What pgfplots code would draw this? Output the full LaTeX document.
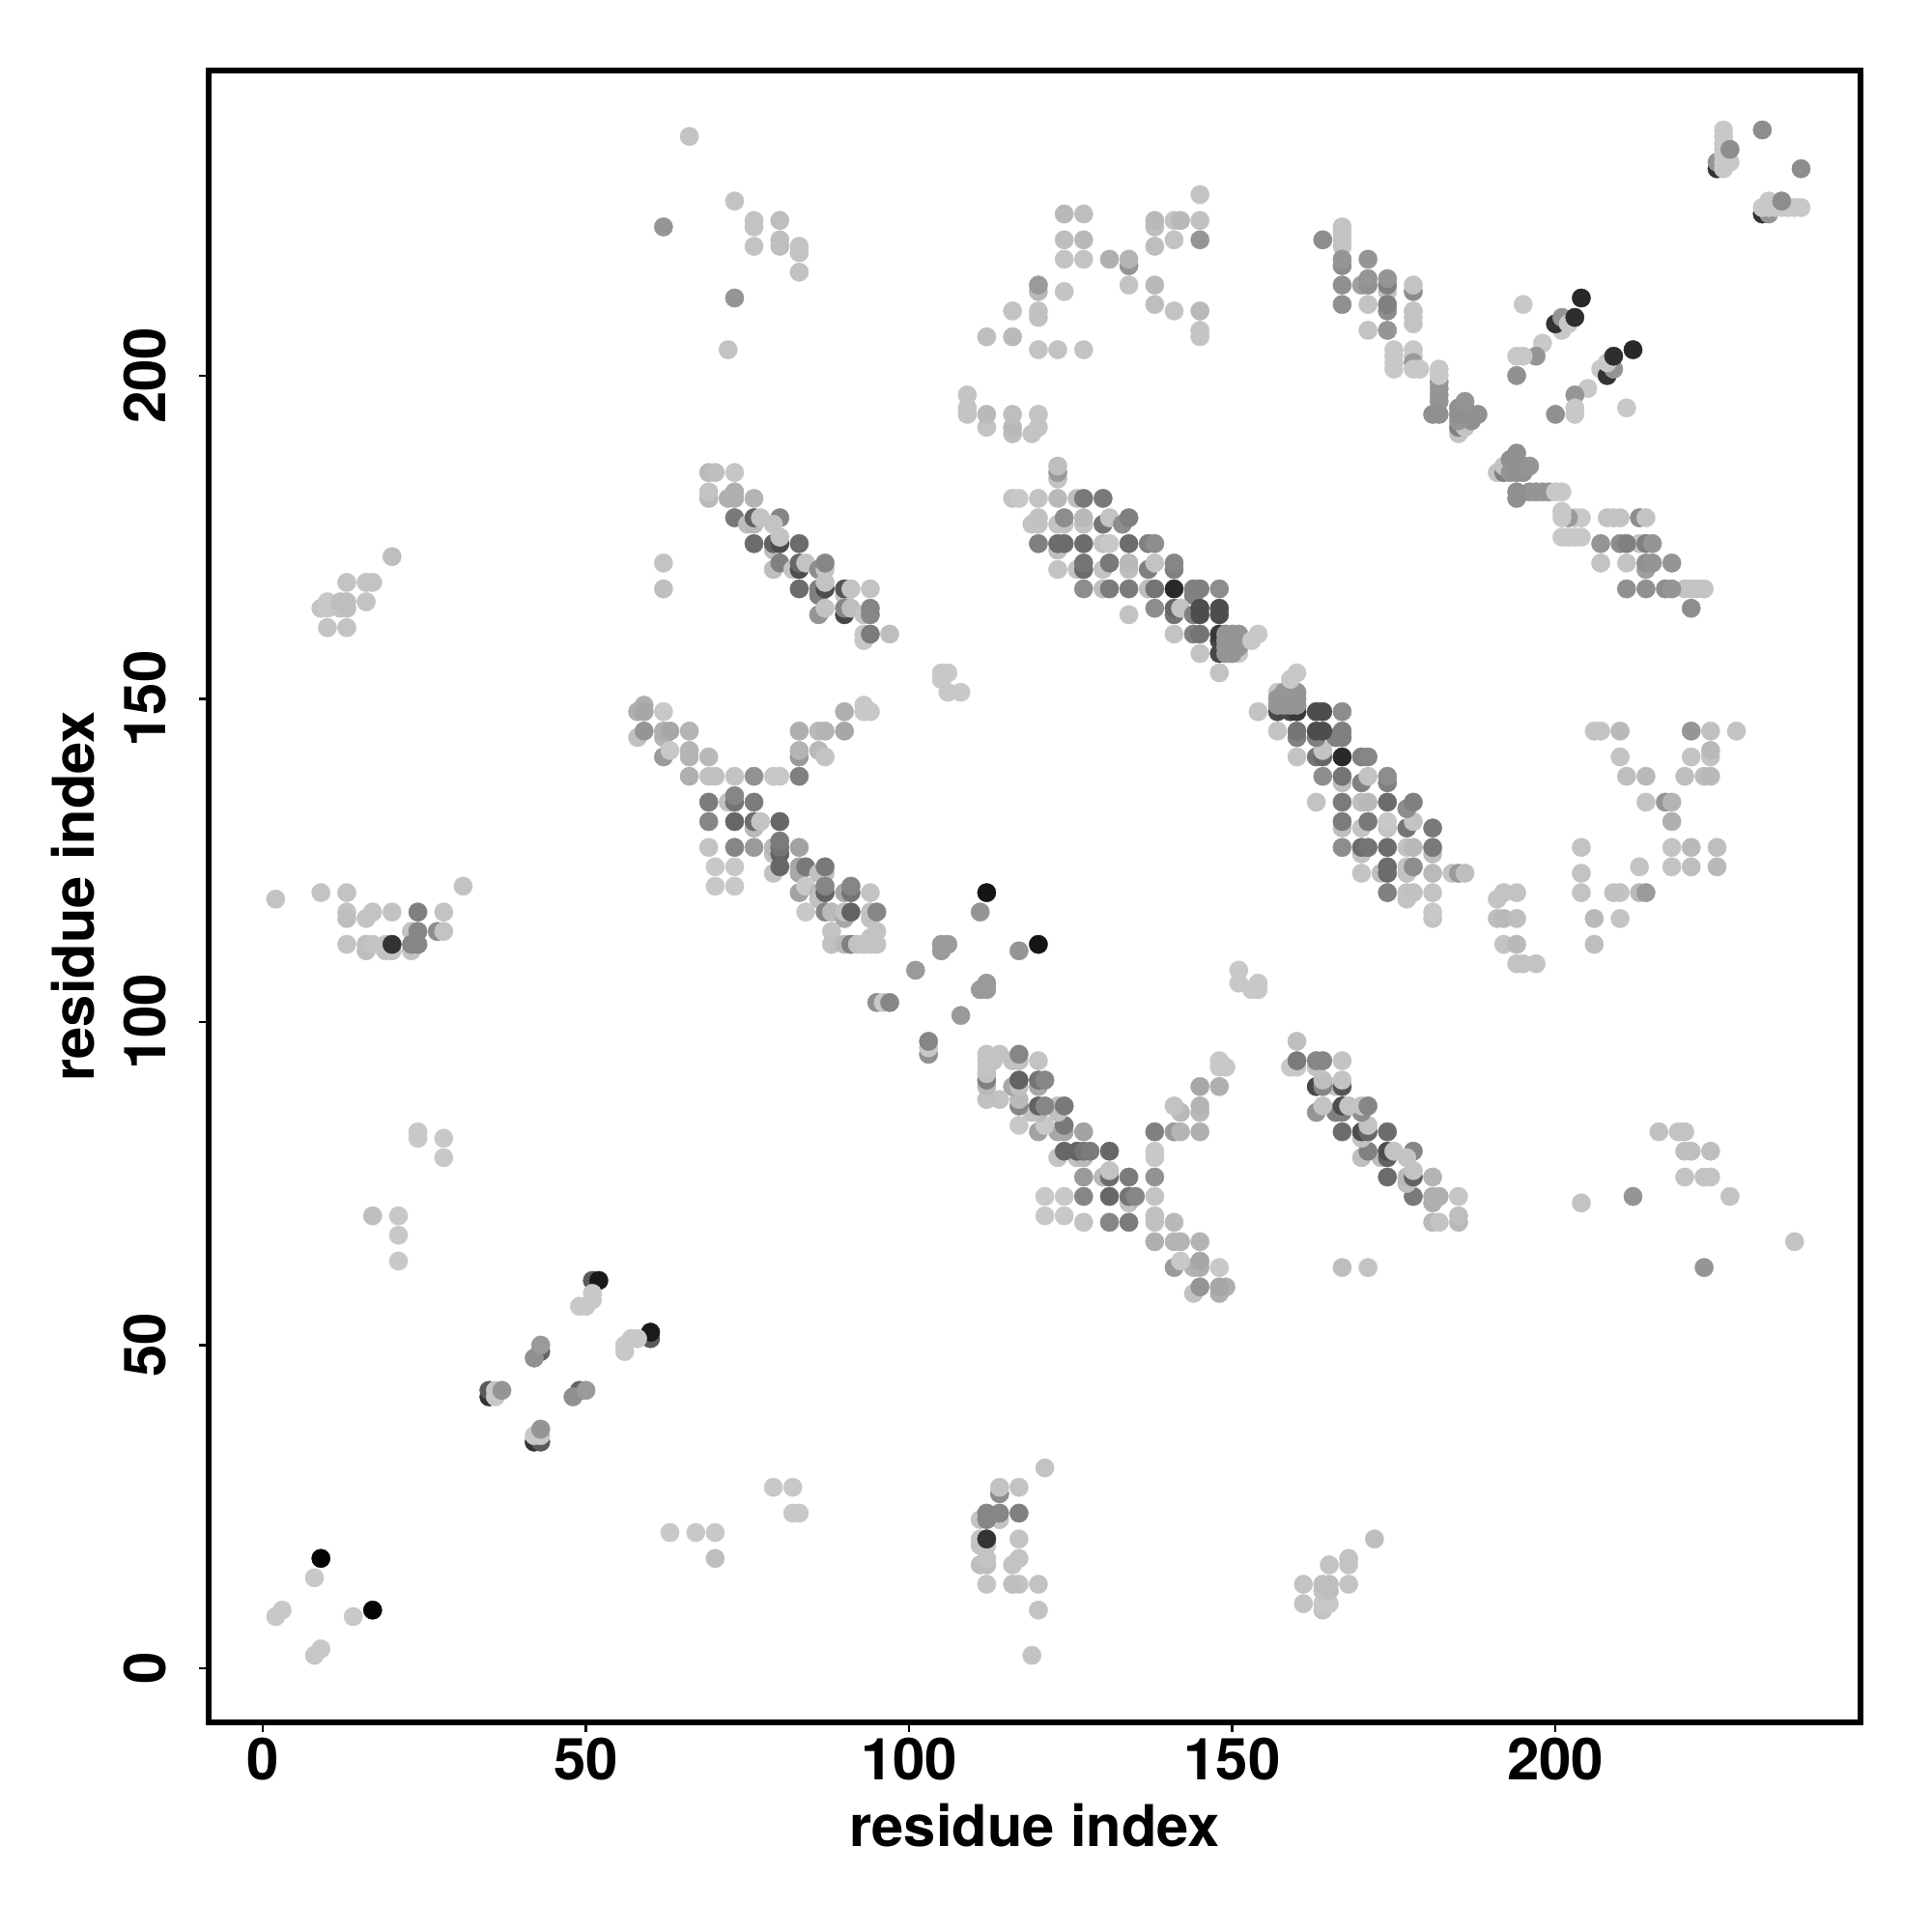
\documentclass[border=0pt]{standalone}
\usepackage{fontspec}
\setmainfont{TeX Gyre Heros}
\usepackage{pgfplots}
\usepackage{pgfplotstable}
\pgfplotsset{compat=1.18}
\pgfplotstableread[row sep=\\]{
x y g\\
2 8 .78\\ 3 9 .78\\ 8 14 .78\\ 9 17 .02\\
24 82 .78\\ 24 83 .78\\ 28 79 .78\\ 28 82 .78\\ 17 70 .74\\ 21 70 .78\\ 21 67 .78\\ 21 63 .78\\
35 42 .2\\ 35 43 .35\\ 36 42 .78\\ 36 43 .78\\ 37 43 .58\\
43 49 .38\\ 42 48 .56\\ 43 50 .6\\
51 60 .35\\ 52 60 .1\\ 51 57 .78\\ 49 56 .78\\ 50 56 .78\\ 51 58 .78\\
2 119 .76\\ 9 120 .76\\ 13 120 .76\\ 13 117 .76\\ 13 116 .74\\ 16 116 .76\\ 17 117 .76\\ 20 117 .76\\ 24 117 .5\\ 28 117 .76\\ 31 121 .76\\
13 112 .76\\ 16 111 .74\\ 16 112 .74\\ 17 112 .76\\ 19 111 .76\\ 20 111 .76\\ 19 112 .76\\ 20 112 .2\\ 23 111 .76\\ 23 114 .76\\ 23 112 .52\\ 24 112 .52\\ 24 114 .52\\ 27 114 .55\\ 28 114 .76\\
20 172 .74\\ 13 168 .76\\ 16 168 .76\\ 17 168 .76\\ 9 164 .76\\ 10 165 .78\\ 10 164 .78\\ 12 164 .76\\ 12 165 .74\\ 13 165 .74\\ 13 164 .74\\ 16 165 .76\\ 10 161 .76\\ 13 161 .76\\
59 149 .68\\ 58 148 .68\\ 59 148 .65\\ 62 148 .78\\
58 144 .75\\ 59 145 .58\\ 62 144 .7\\ 62 145 .68\\ 63 145 .65\\ 66 145 .7\\
62 141 .6\\ 63 142 .78\\ 66 142 .7\\ 66 141 .7\\ 69 141 .72\\
66 138 .68\\ 69 138 .75\\ 70 138 .75\\ 73 138 .76\\ 76 138 .57\\ 79 138 .78\\ 80 138 .78\\ 83 138 .5\\
72 134 .75\\ 69 134 .48\\ 73 134 .45\\ 73 135 .52\\ 76 134 .48\\
69 131 .52\\ 73 131 .4\\ 76 130 .72\\ 76 131 .42\\ 77 131 .76\\ 80 131 .4\\
69 127 .76\\ 73 127 .52\\ 76 127 .6\\ 79 126 .75\\ 79 127 .72\\ 80 126 .38\\ 80 127 .45\\ 80 128 .48\\ 83 127 .63\\
70 124 .78\\ 73 124 .78\\ 79 123 .76\\ 80 124 .4\\ 83 123 .65\\ 83 124 .65\\ 84 124 .47\\ 86 123 .75\\ 87 123 .75\\ 87 124 .47\\
70 121 .78\\ 73 121 .78\\ 83 120 .63\\ 84 121 .78\\ 86 120 .72\\ 86 119 .75\\ 87 120 .38\\ 87 121 .52\\
90 120 .65\\ 91 120 .45\\ 91 121 .52\\ 94 120 .76\\
84 117 .78\\ 87 117 .52\\ 88 117 .72\\ 90 116 .65\\ 90 117 .75\\ 91 117 .38\\ 94 116 .75\\ 94 117 .75\\ 95 117 .52\\
88 114 .76\\ 95 114 .76\\ 94 113 .76\\
88 112 .75\\ 90 112 .72\\ 91 112 .5\\ 92 112 .75\\ 93 112 .76\\ 94 112 .76\\ 95 112 .76\\
83 145 .68\\ 86 145 .72\\ 87 145 .7\\ 90 145 .65\\ 90 148 .68\\ 93 148 .78\\ 94 148 .78\\ 93 149 .78\\ 83 141 .6\\ 83 142 .7\\ 86 142 .72\\ 87 141 .76\\
95 103 .56\\ 96 103 .78\\ 97 103 .52\\ 101 108 .6\\ 105 111 .6\\ 105 112 .6\\ 106 112 .6\\ 111 117 .58\\ 112 120 .08\\
105 154 .78\\ 106 154 .78\\ 105 153 .78\\ 106 151 .78\\ 108 151 .78\\
62 171 .76\\ 62 167 .74\\
69 185 .72\\ 70 185 .74\\ 73 185 .77\\ 69 181 .72\\ 69 182 .76\\ 72 181 .68\\ 73 181 .68\\ 73 182 .68\\ 76 181 .7\\
73 178 .47\\ 75 177 .74\\ 76 177 .72\\ 76 178 .38\\ 77 178 .76\\ 80 178 .52\\ 79 177 .76\\
76 174 .42\\ 79 173 .74\\ 79 174 .38\\ 80 174 .3\\ 83 174 .42\\ 80 175 .76\\
79 170 .74\\ 80 171 .5\\ 82 170 .76\\ 83 170 .3\\ 83 171 .4\\ 84 171 .76\\ 86 170 .55\\ 87 170 .76\\ 87 171 .52\\
83 167 .42\\ 86 166 .5\\ 86 167 .5\\ 87 167 .3\\ 87 168 .76\\ 90 166 .76\\ 90 167 .33\\ 91 167 .76\\ 94 167 .76\\
86 163 .58\\ 87 164 .76\\ 90 163 .28\\ 90 164 .52\\ 91 164 .74\\ 93 163 .76\\ 94 163 .52\\ 94 164 .52\\
93 159 .78\\ 93 160 .78\\ 94 160 .48\\ 97 160 .74\\
66 237 .76\\ 73 227 .76\\ 76 224 .76\\ 76 223 .76\\ 80 224 .74\\ 76 220 .76\\ 80 221 .74\\ 80 220 .74\\ 83 220 .76\\ 83 219 .76\\ 83 216 .75\\ 62 223 .58\\ 73 212 .58\\ 72 204 .76\\
124 225 .72\\ 127 225 .74\\ 124 221 .74\\ 127 221 .72\\ 124 218 .76\\ 127 218 .76\\ 131 218 .68\\ 134 217 .58\\ 134 218 .7\\ 134 214 .76\\ 138 214 .72\\ 138 211 .74\\ 141 210 .76\\ 145 210 .72\\ 145 207 .76\\ 145 206 .76\\
138 223 .74\\ 138 224 .72\\ 141 224 .76\\ 142 224 .72\\ 145 224 .75\\ 145 228 .76\\ 141 221 .76\\ 138 220 .74\\ 145 221 .58\\
120 213 .72\\ 120 214 .6\\ 124 213 .76\\ 116 210 .76\\ 120 210 .76\\ 120 209 .75\\ 112 206 .74\\ 116 206 .72\\ 120 204 .76\\ 123 204 .76\\ 127 204 .76\\
109 197 .76\\ 109 195 .76\\ 109 194 .76\\ 112 192 .76\\ 112 194 .72\\ 116 191 .74\\ 116 192 .72\\ 116 194 .74\\ 120 194 .76\\ 120 192 .76\\ 119 191 .76\\
123 184 .76\\ 123 185 .6\\ 123 186 .74\\
116 181 .76\\ 117 181 .78\\ 120 181 .76\\ 123 181 .72\\ 126 181 .74\\ 127 181 .47\\ 130 181 .47\\
119 177 .76\\ 120 177 .76\\ 120 178 .75\\ 123 177 .76\\ 124 177 .76\\ 124 178 .55\\ 127 177 .76\\ 127 178 .72\\ 130 177 .45\\ 131 178 .76\\ 133 177 .55\\ 134 178 .5\\
123 173 .74\\ 120 174 .5\\ 123 174 .42\\ 124 174 .42\\ 127 174 .42\\ 130 174 .76\\ 131 174 .78\\ 134 174 .42\\ 137 174 .5\\ 138 174 .55\\
123 170 .76\\ 126 170 .76\\ 127 170 .42\\ 127 171 .45\\ 130 170 .76\\ 131 171 .47\\ 134 170 .74\\ 134 171 .72\\ 137 170 .5\\ 138 171 .76\\ 141 170 .5\\ 141 171 .52\\
127 167 .55\\ 130 167 .74\\ 131 167 .48\\ 134 167 .48\\ 137 167 .74\\ 138 167 .45\\ 141 167 .16\\ 144 166 .5\\ 144 167 .5\\ 145 167 .5\\ 148 167 .55\\
134 163 .76\\ 138 164 .55\\ 141 163 .45\\ 141 164 .4\\ 142 164 .76\\ 144 163 .5\\ 145 163 .3\\ 145 164 .3\\ 148 163 .3\\ 148 164 .3\\
141 160 .76\\ 144 160 .5\\ 145 160 .45\\ 145 157 .76\\ 148 154 .76\\
148 157 .28\\ 148 159 .28\\ 148 160 .22\\ 151 157 .78\\ 149 157 .58\\ 150 157 .58\\ 149 158 .58\\ 150 158 .58\\ 151 158 .58\\ 149 159 .58\\ 150 159 .58\\ 151 159 .58\\ 149 160 .58\\ 150 160 .58\\ 151 160 .58\\ 153 159 .78\\ 154 160 .78\\
164 221 .55\\ 167 223 .76\\ 167 222 .76\\ 167 220 .76\\ 167 221 .76\\ 167 217 .55\\ 167 218 .58\\ 171 218 .58\\ 167 214 .56\\ 167 211 .56\\ 170 214 .62\\ 171 214 .56\\ 171 215 .58\\ 174 213 .76\\ 174 214 .5\\ 174 215 .58\\ 178 213 .55\\ 178 214 .76\\
171 211 .76\\ 174 210 .55\\ 174 211 .5\\ 178 210 .76\\ 178 209 .76\\ 178 208 .76\\ 171 207 .76\\ 174 207 .58\\
175 204 .78\\ 175 203 .78\\ 175 202 .78\\ 175 201 .78\\ 178 204 .78\\ 178 203 .78\\ 178 202 .6\\ 178 201 .78\\ 179 201 .78\\
182 199 .58\\ 182 198 .58\\ 182 197 .58\\ 182 196 .58\\ 182 200 .78\\ 182 201 .78\\ 181 194 .56\\ 182 194 .56\\
185 191 .76\\ 185 192 .5\\ 186 192 .76\\ 187 193 .56\\ 185 193 .58\\ 185 194 .56\\ 186 194 .56\\ 185 195 .56\\ 186 195 .56\\ 186 196 .58\\ 188 194 .56\\
195 211 .78\\ 201 207 .78\\ 200 208 .2\\ 201 209 .58\\ 202 208 .78\\ 203 209 .18\\ 204 212 .16\\
198 205 .78\\ 197 203 .58\\ 194 203 .78\\ 195 203 .78\\ 194 200 .56\\
225 232 .2\\ 225 233 .58\\ 226 232 .78\\ 226 233 .78\\ 226 234 .78\\ 226 235 .78\\ 226 236 .78\\ 226 237 .78\\ 226 238 .78\\ 227 233 .78\\ 227 235 .55\\ 232 238 .55\\
}\upper
\begin{document}
\begin{tikzpicture}
\path[use as bounding box] (0,0) rectangle (500pt,500pt);
\begin{axis}[
  at={(54pt,54.25pt)}, anchor=south west,
  scale only axis, width=427.5pt, height=427.5pt,
  xmin=-8.37, xmax=247.2, ymin=-8.37, ymax=247.2,
  axis line style={line width=1.5pt},
  xtick={0,50,100,150,200}, ytick={0,50,100,150,200},
  xtick pos=bottom, ytick pos=left, tick align=outside,
  major tick length=2.6pt,
  tick style={line width=0.6pt,black},
  tick label style={font=\fontsize{15}{18}\selectfont\bfseries, /pgf/number format/assume math mode=true},
  x tick label style={yshift=2.2pt},
  y tick label style={rotate=90, anchor=south, yshift=4.8pt},
  xlabel={residue index}, ylabel={residue index},
  label style={font=\fontsize{14.9}{18}\selectfont\bfseries},
  xlabel style={at={(axis description cs:0.5,0)}, anchor=center, yshift=-26.6pt},
  ylabel style={at={(axis description cs:0,0.5)}, anchor=center, yshift=35pt},
  colormap={grays}{gray(0cm)=(0); gray(1cm)=(1)},
  point meta min=0, point meta max=1,
]
\addplot[scatter, only marks, mark=*, mark size=2.4pt, scatter src=explicit,
  scatter/use mapped color={draw=mapped color, fill=mapped color}, mark options={line width=0.1pt}]
  table[x=x, y=y, meta=g] {\upper};
\addplot[scatter, only marks, mark=*, mark size=2.4pt, scatter src=explicit,
  scatter/use mapped color={draw=mapped color, fill=mapped color}, mark options={line width=0.1pt}]
  table[x=y, y=x, meta=g] {\upper};
\end{axis}
\end{tikzpicture}
\end{document}
